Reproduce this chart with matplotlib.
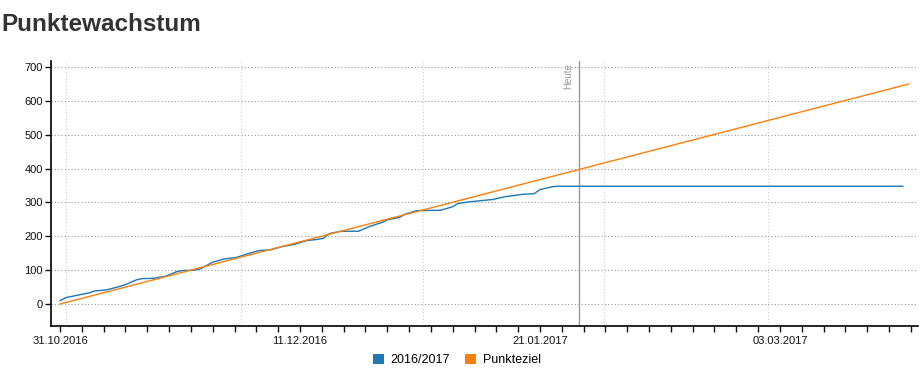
import matplotlib
matplotlib.use("Agg")
import matplotlib.pyplot as plt
import matplotlib.dates as mdates
from matplotlib.patches import Patch
import numpy as np
import pandas as pd

plt.rcParams["font.family"] = ["Liberation Sans", "DejaVu Sans"]

# Punktestand 2016/2017
blue_dates = [
    "2016-10-31", "2016-11-01", "2016-11-05", "2016-11-06", "2016-11-07", "2016-11-08",
    "2016-11-10", "2016-11-11", "2016-11-13", "2016-11-14", "2016-11-16", "2016-11-18",
    "2016-11-20", "2016-11-21", "2016-11-23", "2016-11-24", "2016-11-26", "2016-11-28",
    "2016-11-30", "2016-12-02", "2016-12-04", "2016-12-06", "2016-12-08", "2016-12-10",
    "2016-12-12", "2016-12-14", "2016-12-15", "2016-12-16", "2016-12-18", "2016-12-21",
    "2016-12-23", "2016-12-25", "2016-12-26", "2016-12-28", "2016-12-29", "2016-12-31",
    "2017-01-04", "2017-01-06", "2017-01-07", "2017-01-09", "2017-01-13", "2017-01-15",
    "2017-01-18", "2017-01-20", "2017-01-21", "2017-01-23", "2017-01-24", "2017-03-24",
]
blue_values = [
    10, 19, 33, 39, 40, 42,
    51, 56, 71, 75, 76, 82,
    96, 99, 100, 104, 123, 133,
    137, 148, 158, 160, 170, 176,
    187, 191, 194, 208, 215, 215,
    230, 241, 249, 256, 266, 276,
    277, 287, 297, 302, 309, 317,
    324, 326, 338, 346, 348, 348,
]

# Punkteziel (linear)
goal_dates = ["2016-10-31", "2017-03-25"]
goal_values = [0, 650]

today = "2017-01-27 16:00"
start = "2016-10-31"

blue_x = pd.to_datetime(blue_dates)
goal_x = pd.to_datetime(goal_dates)

fig = plt.figure(figsize=(9.23, 3.74), dpi=100)
ax = fig.add_axes([0.0553, 0.1283, 0.9393, 0.7086])

ax.plot(blue_x, blue_values, color="#1f77b4", linewidth=1.0, zorder=3)
ax.plot(goal_x, goal_values, color="#ff7f0e", linewidth=1.0, zorder=3)

t0 = mdates.date2num(pd.Timestamp(start))
ax.set_xlim(t0 - 1.54, t0 + 146.6)
ax.set_ylim(-65, 718)

# horizontal grid
ax.set_yticks(np.arange(0, 701, 100))
for yv in np.arange(0, 701, 100):
    ax.axhline(yv, color="#999999", linestyle=(0, (1, 2)), linewidth=0.8, zorder=1)

# vertical grid at month starts
months = pd.date_range("2016-11-01", "2017-03-01", freq="MS")
for m in months:
    ax.axvline(mdates.date2num(m), color="#cccccc", linestyle=(0, (1, 2)), linewidth=0.8, zorder=1)

# ticks every 41/11 days, labels every 41 days
step = 41 / 11
ticks = t0 + np.arange(0, 40) * step
ax.set_xticks(ticks)
labels = []
for i, t in enumerate(ticks):
    if i % 11 == 0:
        labels.append(mdates.num2date(t).strftime("%d.%m.%Y"))
    else:
        labels.append("")
ax.set_xticklabels(labels)

ax.tick_params(axis="both", labelsize=8, length=4, width=1, colors="#111111", pad=2)
ax.tick_params(axis="x", pad=3)

for s in ["top", "right"]:
    ax.spines[s].set_visible(False)
ax.spines["left"].set_linewidth(1.2)
ax.spines["bottom"].set_linewidth(1.2)

# Heute
tn = mdates.date2num(pd.Timestamp(today))
ax.axvline(tn, color="#999999", linewidth=1, zorder=2)
ax.text(tn - 1.0, 712, "Heute", rotation=90, ha="right", va="top", fontsize=7, color="#999999")

fig.text(0.002, 0.935, "Punktewachstum", fontsize=17.5, fontweight="bold", color="#333333",
         ha="left", va="center")

legend_elements = [
    Patch(facecolor="#1f77b4", label="2016/2017"),
    Patch(facecolor="#ff7f0e", label="Punkteziel"),
]
fig.legend(handles=legend_elements, loc="center", bbox_to_anchor=(0.495, 0.037), ncol=2,
           fontsize=9, frameon=False, handlelength=0.9, handleheight=0.9,
           handletextpad=0.5, columnspacing=1.2)

fig.savefig("out.png", dpi=100)
